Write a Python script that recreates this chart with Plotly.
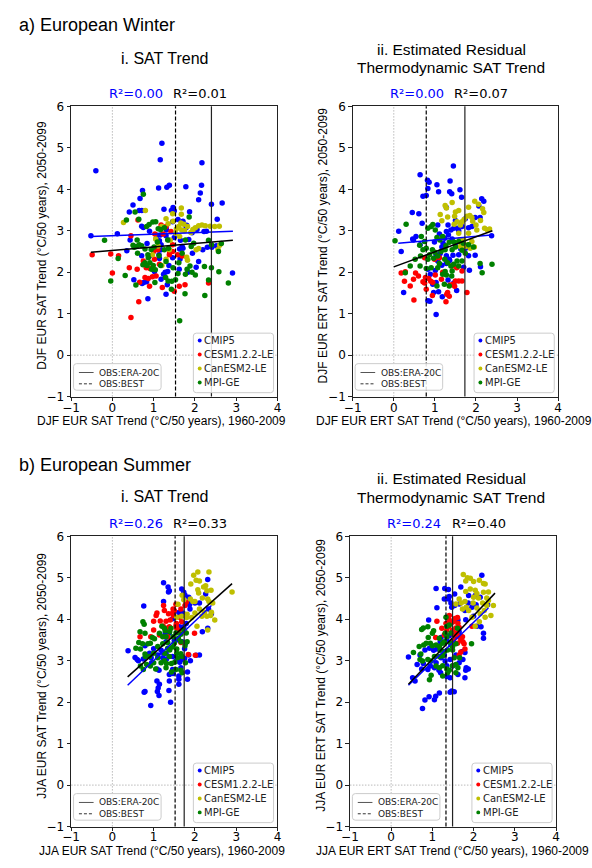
import plotly.graph_objects as go

W, H = 592, 868

# ---------------- data ----------------
# Panel a-i : DJF EUR SAT trend (x: 1960-2009, y: 2050-2099)
djf_sat_cmip5 = [(1.20,5.11),(1.16,4.71),(2.17,4.64),(-0.40,4.45),(1.38,4.10),(1.12,4.03),(1.32,4.05),(1.78,4.06),(2.16,4.10),(0.73,3.97),(2.13,3.91),(0.67,3.78),(1.25,3.52),(0.50,3.62),(0.41,3.45),(0.65,3.49),(0.71,3.49),(2.09,3.75),(2.40,3.64),(2.66,3.67),(1.47,3.56),(1.43,3.49),(1.87,3.46),(1.50,3.48),(2.54,3.28),(1.59,3.27),(1.71,3.23),(1.80,3.13),(1.79,3.08),(1.46,3.22),(0.75,3.08),(0.71,3.11),(0.90,2.99),(-0.52,2.88),(0.12,2.93),(1.30,3.07),(1.31,3.02),(1.09,2.89),(1.16,2.90),(1.30,2.88),(1.93,2.95),(2.05,3.03),(2.28,2.99),(2.22,2.98),(1.06,2.81),(1.14,2.76),(1.18,2.66),(1.37,2.78),(1.50,2.84),(1.85,2.79),(1.65,2.77),(1.69,2.62),(1.71,2.58),(1.63,2.56),(1.18,2.54),(0.84,2.69),(0.35,2.52),(0.71,2.40),(0.90,2.39),(1.13,2.42),(1.14,2.33),(1.46,2.35),(1.64,2.32),(1.94,2.46),(2.30,2.60),(2.41,2.60),(2.52,2.64),(2.19,2.54),(2.09,2.26),(2.03,2.12),(2.91,1.98),(1.83,2.00),(1.62,2.07),(1.37,2.16),(1.28,2.00),(1.24,1.95),(1.02,2.02),(0.76,1.75),(0.83,1.77),(0.52,1.82),(0.72,1.73),(1.18,1.83),(1.33,1.70),(1.30,1.47),(0.86,1.36),(1.34,2.02),(0.43,2.78)]
djf_sat_cesm = [(-0.49,2.42),(-0.04,2.44),(0.15,2.40),(0.00,1.98),(0.41,2.11),(0.60,2.07),(0.75,2.27),(0.82,2.11),(0.91,2.09),(0.62,3.26),(0.45,2.88),(1.03,2.92),(1.23,2.92),(1.30,3.10),(1.42,2.98),(1.10,2.54),(1.00,2.50),(1.06,1.91),(0.97,1.89),(0.87,1.85),(0.79,1.87),(0.66,1.76),(0.90,1.66),(1.21,1.63),(1.39,2.48),(1.38,2.42),(1.46,2.50),(1.58,2.42),(1.50,1.54),(1.62,1.66),(1.76,1.70),(2.33,1.74),(0.64,1.29),(0.45,0.91),(1.18,3.14),(1.02,2.31),(1.69,2.39),(1.14,2.19),(1.46,2.66)]
djf_sat_canesm = [(0.27,3.20),(0.80,3.49),(1.30,3.29),(1.47,3.23),(1.67,3.55),(1.67,3.40),(1.66,3.19),(1.73,3.16),(1.61,3.10),(1.82,3.10),(1.95,3.03),(2.01,3.07),(2.09,3.12),(2.17,3.14),(2.25,3.12),(2.37,3.11),(2.48,3.10),(2.59,3.11),(0.97,2.42),(1.20,2.16),(1.30,2.31),(1.38,2.54),(1.40,2.77),(1.53,2.94),(1.55,3.04),(1.68,3.02),(1.63,2.86),(1.75,3.00),(1.90,2.96),(1.46,3.41),(1.35,3.17),(1.20,3.10),(1.82,2.29),(1.80,2.36),(2.03,2.54),(2.09,2.57),(2.56,2.55),(2.60,2.65),(1.05,2.80),(1.11,2.63)]
djf_sat_mpi = [(0.75,3.88),(0.55,3.45),(0.64,3.28),(-0.19,2.77),(0.14,2.33),(-0.04,1.79),(0.31,1.92),(0.57,1.69),(0.65,2.66),(0.58,2.62),(0.53,2.60),(0.61,2.46),(0.71,2.64),(0.79,2.56),(0.83,3.10),(0.89,3.15),(0.98,3.21),(1.05,3.22),(1.11,3.05),(1.17,3.03),(1.26,3.07),(1.34,2.78),(1.36,2.58),(1.09,2.73),(1.01,2.61),(0.94,2.55),(0.86,2.42),(0.87,2.35),(0.79,2.23),(0.74,2.18),(0.84,2.16),(0.91,2.23),(0.95,2.07),(1.04,2.06),(0.99,2.16),(1.17,2.16),(1.30,2.26),(1.29,1.87),(1.35,1.79),(1.44,1.78),(1.53,1.82),(1.59,1.97),(1.77,1.95),(1.81,2.07),(1.93,2.00),(2.01,1.93),(2.23,2.14),(2.40,2.11),(2.58,2.01),(2.81,1.74),(2.24,1.44),(2.33,1.81),(1.76,1.48),(1.63,0.83),(1.86,3.33),(1.77,2.78),(1.91,2.62),(1.97,2.70),(2.33,2.77),(2.40,2.66),(2.57,2.50),(2.64,2.69),(1.69,2.46),(1.61,2.23),(1.88,2.15),(1.47,2.11),(0.34,3.26),(0.50,2.65),(0.60,2.78),(1.13,2.40),(1.26,2.54),(1.43,1.59),(1.03,1.75)]

# Panel a-ii : DJF EUR ERT SAT trend
djf_ert_cmip5 = [(1.45,4.56),(0.64,4.35),(0.82,4.22),(0.86,4.17),(1.05,4.11),(1.37,4.20),(0.83,4.02),(1.09,3.94),(0.71,3.83),(0.79,3.85),(1.36,3.94),(1.41,3.89),(1.61,3.99),(1.65,3.81),(2.14,3.77),(2.19,3.71),(2.07,3.60),(1.28,3.56),(0.45,3.44),(0.61,3.41),(0.69,3.18),(1.07,3.14),(1.32,3.14),(1.46,3.06),(1.55,3.06),(1.50,3.25),(1.62,3.18),(1.74,3.29),(1.66,3.10),(1.98,3.32),(2.10,3.32),(0.12,2.99),(0.48,2.78),(0.54,2.86),(1.28,2.98),(1.39,3.02),(1.58,3.00),(1.61,2.78),(1.11,2.92),(1.24,2.82),(1.33,2.90),(1.42,2.80),(0.18,2.50),(0.46,2.80),(0.64,2.66),(0.99,2.73),(1.20,2.70),(1.17,2.61),(1.03,2.42),(1.13,2.45),(1.28,2.40),(1.35,2.31),(1.44,2.41),(1.58,2.42),(1.63,2.56),(1.75,2.58),(1.82,2.40),(1.98,2.41),(2.38,2.88),(1.07,2.27),(1.17,2.17),(1.36,2.28),(1.28,2.21),(1.70,2.12),(1.84,2.05),(2.11,2.13),(0.83,2.07),(1.01,2.04),(0.89,1.95),(1.03,1.75),(0.95,1.71),(0.24,1.51),(0.83,1.31),(0.88,1.30),(0.97,1.51),(1.09,1.53),(1.18,1.41),(1.32,1.81),(1.46,1.74),(1.53,1.56),(1.03,0.98),(1.82,3.07),(1.90,3.10),(1.50,2.63)]
djf_ert_cesm = [(0.18,1.98),(0.28,2.01),(0.48,1.83),(0.53,1.98),(0.40,1.67),(0.26,1.78),(0.49,1.33),(0.60,1.91),(0.75,2.35),(0.75,1.74),(0.71,1.77),(0.85,1.85),(0.90,1.78),(1.01,1.93),(0.79,1.59),(0.94,1.44),(0.95,1.75),(1.27,1.29),(1.29,1.47),(1.31,1.51),(1.37,1.69),(1.44,1.71),(1.50,1.79),(1.58,1.79),(1.66,1.79),(1.78,1.51),(1.42,2.15),(1.53,2.11),(1.66,2.03),(0.99,2.31),(1.11,2.35),(0.77,1.87),(1.16,1.83),(1.19,2.00),(1.48,1.66),(1.35,1.42)]
djf_ert_canesm = [(1.13,3.39),(1.17,3.24),(1.25,3.61),(1.28,3.55),(1.42,3.68),(1.50,3.45),(1.58,3.49),(1.48,3.35),(1.54,3.22),(1.62,3.14),(1.71,3.27),(1.78,3.35),(1.82,3.57),(1.85,3.37),(1.90,3.32),(1.97,3.71),(2.06,3.64),(2.16,3.53),(2.19,3.44),(2.11,3.25),(2.21,3.06),(2.28,3.02),(2.33,3.04),(2.00,3.14),(1.82,2.94),(1.70,2.78),(1.62,2.62),(1.74,2.62),(1.80,2.66),(1.90,2.74),(1.86,2.58),(1.96,2.61),(1.58,2.94),(1.31,3.33),(1.47,3.16),(1.66,3.22),(2.02,3.02),(1.92,3.23),(1.60,2.77)]
djf_ert_mpi = [(0.03,2.76),(0.30,3.16),(0.28,1.99),(0.40,2.15),(0.63,2.65),(0.65,2.39),(0.67,2.86),(0.83,3.06),(0.91,3.10),(0.95,3.15),(1.01,3.02),(1.05,2.84),(1.19,2.86),(1.35,2.72),(1.46,2.73),(1.58,2.74),(1.69,2.70),(1.82,2.66),(1.94,2.61),(2.10,2.21),(2.15,1.99),(2.39,2.19),(0.79,2.58),(0.87,2.42),(0.94,2.54),(1.00,2.48),(1.07,2.39),(1.15,2.50),(1.25,2.54),(1.42,2.54),(1.50,2.61),(0.83,2.31),(0.97,2.34),(1.11,2.21),(1.24,2.31),(1.31,2.23),(1.39,2.15),(1.46,2.19),(1.54,2.27),(0.91,2.11),(1.07,2.11),(1.19,1.95),(1.28,1.93),(1.41,1.91),(1.58,2.15),(1.66,2.27),(0.52,2.31),(0.64,2.15),(0.71,2.54),(1.12,2.78),(1.27,2.64),(1.66,2.53),(1.74,2.46),(1.05,1.67),(1.23,1.71),(1.35,1.67),(1.25,2.02),(1.42,2.03),(0.75,2.74),(0.79,2.09)]

# Panel b-i : JJA EUR SAT trend
jja_sat_cmip5 = [(1.24,4.88),(1.35,4.78),(1.38,4.69),(1.36,4.66),(1.24,4.43),(0.76,4.32),(1.68,4.73),(1.73,4.65),(1.76,4.58),(1.85,4.53),(1.89,4.43),(1.87,4.35),(1.88,4.25),(2.00,4.39),(2.11,4.39),(2.31,4.96),(2.26,4.61),(2.33,4.25),(2.40,4.13),(2.31,3.78),(2.18,3.70),(1.71,4.15),(1.61,4.16),(1.46,4.01),(1.63,3.82),(1.73,3.82),(1.79,3.90),(1.28,3.66),(1.38,3.67),(1.30,3.46),(1.50,3.49),(1.56,3.50),(0.79,3.36),(0.90,3.18),(1.00,3.29),(1.18,3.25),(1.10,3.14),(1.22,3.20),(0.38,3.24),(0.60,3.03),(0.63,3.00),(0.75,3.04),(0.95,2.95),(1.08,2.80),(1.13,2.77),(1.31,3.04),(1.22,3.07),(1.46,3.10),(1.54,2.99),(1.75,3.29),(1.75,3.06),(1.89,3.00),(2.11,3.14),(2.03,3.13),(1.85,3.14),(1.63,2.96),(1.46,2.79),(1.47,2.69),(1.38,2.67),(1.61,2.63),(1.61,2.55),(1.82,2.73),(1.82,2.55),(1.61,2.43),(1.38,2.51),(1.08,2.51),(1.14,2.43),(1.11,2.34),(1.09,2.26),(1.13,2.16),(0.77,2.24),(0.79,2.26),(0.93,1.92),(1.41,2.00),(1.37,2.28),(1.66,2.83),(1.69,3.46),(0.55,3.08),(0.94,3.07),(1.30,3.18),(1.68,3.03),(1.77,3.42)]
jja_sat_cesm = [(0.67,3.58),(1.00,3.95),(1.08,4.15),(1.06,4.09),(1.24,4.33),(1.26,4.21),(1.23,3.84),(1.30,3.78),(1.38,3.82),(1.16,3.96),(1.47,4.25),(1.50,4.21),(1.48,4.09),(1.46,4.15),(1.55,3.90),(1.54,3.84),(1.56,3.78),(1.66,4.25),(1.63,4.05),(1.68,3.94),(1.76,4.33),(1.79,4.41),(1.84,3.15),(2.01,3.13),(1.99,3.66),(1.66,3.44),(1.61,3.72),(1.30,3.95),(1.34,3.58),(1.00,3.74),(0.93,3.58),(1.14,3.62),(1.36,4.13),(1.54,4.36),(1.40,3.98)]
jja_sat_canesm = [(1.97,5.06),(2.07,5.14),(2.34,5.14),(2.03,4.94),(2.11,4.92),(2.26,4.81),(2.21,4.78),(2.39,4.70),(2.29,4.69),(2.07,4.71),(2.09,4.63),(2.18,4.51),(2.31,4.49),(2.34,4.43),(2.43,4.39),(2.40,4.17),(2.38,4.09),(2.48,3.98),(2.29,4.07),(2.31,3.74),(2.05,3.83),(1.92,4.04),(1.81,4.12),(1.95,4.43),(1.89,4.49),(2.00,4.43),(1.59,4.36),(1.56,4.05),(1.68,4.07),(1.80,4.04),(1.73,4.47),(1.69,4.58),(1.90,4.85),(2.11,4.25),(2.23,4.17),(2.17,4.07),(2.90,4.66),(2.00,4.15)]
jja_sat_mpi = [(0.74,3.94),(0.77,3.88),(0.67,3.70),(0.64,3.44),(0.57,3.30),(0.68,3.28),(0.73,3.41),(0.79,3.66),(0.86,3.41),(0.92,3.42),(0.97,3.56),(1.02,3.53),(1.14,3.66),(1.20,3.83),(1.26,3.78),(1.28,3.72),(1.22,3.58),(1.30,3.58),(1.39,3.70),(1.42,3.78),(1.47,3.58),(1.54,3.67),(1.60,3.54),(1.66,3.64),(1.73,3.74),(1.79,3.67),(1.81,3.46),(1.76,3.36),(1.66,3.46),(0.79,3.16),(0.80,3.10),(0.90,3.10),(1.00,3.18),(1.10,3.07),(1.10,3.34),(1.22,3.41),(1.34,3.44),(1.34,3.30),(1.27,3.18),(1.39,3.26),(1.46,3.33),(1.50,3.42),(1.56,3.28),(1.56,3.18),(1.66,3.17),(1.69,3.10),(0.83,2.91),(0.92,2.87),(1.00,2.95),(1.05,2.80),(1.18,2.95),(1.26,3.00),(1.31,2.93),(1.30,2.83),(1.43,2.93),(1.51,2.96),(1.54,2.79),(1.66,2.77),(1.69,2.71),(1.43,2.73),(0.75,2.79),(0.68,2.87),(1.38,3.10),(1.77,2.95),(1.58,3.07)]

# Panel b-ii : JJA EUR ERT SAT trend
jja_ert_cmip5 = [(2.20,5.06),(1.09,4.74),(1.30,4.74),(1.39,4.72),(1.69,4.78),(1.54,4.61),(1.41,4.55),(1.39,4.49),(1.29,4.49),(1.45,4.39),(1.47,4.29),(1.11,4.28),(1.54,4.33),(1.65,4.37),(1.88,4.57),(2.04,4.57),(2.16,4.53),(2.06,4.35),(1.96,4.29),(1.87,4.39),(1.79,4.21),(1.81,3.99),(1.62,3.98),(2.00,4.07),(2.08,3.83),(2.18,3.82),(2.24,3.66),(2.24,3.54),(2.34,4.35),(0.91,3.98),(1.65,3.70),(1.65,3.60),(1.58,3.58),(1.41,3.60),(1.35,3.50),(1.21,3.56),(1.45,3.38),(1.19,3.46),(1.11,3.28),(1.03,3.25),(0.93,3.30),(0.82,3.26),(0.70,3.14),(0.42,3.09),(0.78,2.93),(0.63,2.91),(0.74,2.80),(0.89,2.79),(0.95,2.87),(1.05,2.83),(1.16,2.77),(1.20,2.71),(1.09,2.95),(1.31,2.99),(1.35,2.88),(1.43,3.03),(1.49,2.87),(1.65,2.95),(1.74,3.03),(1.79,3.20),(1.73,3.22),(1.82,2.83),(1.81,2.77),(1.87,2.80),(1.79,2.59),(1.62,2.67),(1.35,2.62),(1.43,2.59),(1.47,2.27),(1.53,2.25),(1.43,2.24),(1.17,2.22),(1.08,2.14),(1.05,2.06),(0.92,2.13),(0.82,2.05),(0.76,1.85),(0.58,2.51),(0.52,2.59),(1.29,3.14),(1.57,3.14),(1.21,3.07)]
jja_ert_cesm = [(1.11,3.95),(1.41,4.09),(1.33,3.90),(1.39,3.82),(1.45,3.90),(1.51,3.94),(1.55,4.02),(1.62,3.90),(1.57,3.79),(1.65,3.80),(1.49,3.74),(1.59,3.67),(1.65,3.58),(1.69,3.50),(1.74,3.46),(1.77,3.41),(1.79,3.28),(1.65,3.14),(1.69,3.21),(1.41,3.98),(1.35,3.74),(1.53,3.62),(1.61,4.04),(1.96,3.83),(1.08,3.56),(1.29,3.62),(1.61,3.42),(1.73,3.58),(1.23,3.78),(1.51,3.50)]
jja_ert_canesm = [(1.75,5.08),(1.85,5.00),(1.92,4.99),(1.81,4.92),(2.00,4.91),(2.14,4.94),(2.24,4.86),(2.28,4.85),(1.92,4.73),(2.04,4.70),(2.08,4.62),(2.00,4.53),(2.12,4.51),(2.24,4.65),(2.36,4.66),(2.32,4.51),(2.22,4.39),(2.32,4.33),(2.48,4.33),(2.42,4.09),(2.28,4.05),(2.14,3.94),(2.04,3.83),(1.96,4.05),(1.88,4.21),(1.82,4.29),(1.70,4.39),(1.65,4.49),(1.79,4.43),(1.73,4.25),(1.57,4.37),(2.08,4.27),(2.16,4.13),(2.26,4.21),(1.99,4.39),(2.36,4.45),(1.81,4.67)]
jja_ert_mpi = [(0.72,3.16),(0.54,3.20),(0.74,3.75),(0.78,3.79),(0.89,3.82),(1.03,3.72),(1.00,3.66),(0.90,3.56),(0.95,3.42),(0.85,3.42),(0.79,3.38),(0.68,3.34),(1.00,3.36),(1.09,3.38),(1.17,3.34),(1.19,3.25),(1.25,3.42),(1.17,3.54),(1.29,3.46),(1.35,3.58),(1.31,3.66),(1.35,3.83),(1.41,3.86),(1.45,3.67),(1.33,4.05),(1.45,3.42),(1.57,3.41),(1.49,3.34),(1.49,3.26),(1.37,3.26),(1.29,3.22),(1.25,3.12),(1.17,3.10),(1.05,3.10),(0.97,2.99),(0.89,3.03),(0.76,2.99),(0.70,3.03),(1.09,2.87),(1.17,2.83),(1.25,2.88),(1.35,2.80),(1.41,2.77),(1.49,2.88),(1.57,2.91),(1.62,2.83),(0.97,2.65),(0.93,2.54),(1.25,2.63),(1.37,2.71),(1.57,2.71),(1.66,3.07),(1.95,3.41),(1.61,3.78),(1.53,3.07)]

# observed trends (vertical lines): a-i, a-ii, b-i, b-ii
obs_era20c = [2.40, 1.73, 1.74, 1.49]
obs_best = [1.53, 0.79, 1.52, 1.33]

# regression lines (endpoints): ((x0, x1), (y0, y1))
fit_cmip5 = [((-0.52, 2.92), (2.86, 2.99)), ((0.11, 2.37), (2.70, 2.90)),
             ((0.37, 2.40), (2.41, 4.33)), ((0.42, 2.36), (2.41, 4.27))]
fit_all = [((-0.52, 2.92), (2.48, 2.77)), ((0.00, 2.40), (2.13, 3.00)),
           ((0.37, 2.90), (2.61, 4.86)), ((0.42, 2.52), (2.43, 4.63))]
r2_cmip5 = [0.00, 0.00, 0.26, 0.24]
r2_all = [0.01, 0.07, 0.33, 0.40]

series_names = ["CMIP5", "CESM1.2.2-LE", "CanESM2-LE", "MPI-GE"]
series_colors = ["#0000ff", "#ff0000", "#bfbf00", "#008000"]
panel_data = [
    [djf_sat_cmip5, djf_sat_cesm, djf_sat_canesm, djf_sat_mpi],
    [djf_ert_cmip5, djf_ert_cesm, djf_ert_canesm, djf_ert_mpi],
    [jja_sat_cmip5, jja_sat_cesm, jja_sat_canesm, jja_sat_mpi],
    [jja_ert_cmip5, jja_ert_cesm, jja_ert_canesm, jja_ert_mpi],
]
x_labels = ["DJF EUR SAT Trend (°C/50 years), 1960-2009",
            "DJF EUR ERT SAT Trend (°C/50 years), 1960-2009",
            "JJA EUR SAT Trend (°C/50 years), 1960-2009",
            "JJA EUR ERT SAT Trend (°C/50 years), 1960-2009"]
y_labels = ["DJF EUR SAT Trend (°C/50 years), 2050-2099",
            "DJF EUR ERT SAT Trend (°C/50 years), 2050-2099",
            "JJA EUR SAT Trend (°C/50 years), 2050-2099",
            "JJA EUR ERT SAT Trend (°C/50 years), 2050-2099"]
x_ticks = [-1, 0, 1, 2, 3, 4]
y_ticks = [-1, 0, 1, 2, 3, 4, 5, 6]

# ---------------- layout geometry (pixels) ----------------
PAN = [(63.5, 274.5, 101, 396), (351.4, 561.5, 101, 396),
       (63.5, 274.5, 538, 833), (348.6, 559.3, 538, 833)]
XLAB_SHIFT = [-13, -1, -13, -1]


def PX(px):
    return px / W


def PY(py):
    return 1 - py / H


TITLE_FONT = "Liberation Sans"
TICK_FONT = "DejaVu Sans"

fig = go.Figure()
shapes = []
annotations = []


def ann(text, x, y, size, xanchor="center", yanchor="middle", color="black",
        family=TITLE_FONT, angle=0):
    annotations.append(dict(text=text, x=PX(x), y=PY(y), xref="paper", yref="paper",
                            showarrow=False, xanchor=xanchor, yanchor=yanchor,
                            textangle=angle, borderpad=0,
                            font=dict(family=family, size=size, color=color)))


def rbox(x0, y0, x1, y1, r=3):
    p = (f"M {PX(x0+r)},{PY(y0)} L {PX(x1-r)},{PY(y0)} Q {PX(x1)},{PY(y0)} {PX(x1)},{PY(y0+r)} "
         f"L {PX(x1)},{PY(y1-r)} Q {PX(x1)},{PY(y1)} {PX(x1-r)},{PY(y1)} "
         f"L {PX(x0+r)},{PY(y1)} Q {PX(x0)},{PY(y1)} {PX(x0)},{PY(y1-r)} "
         f"L {PX(x0)},{PY(y0+r)} Q {PX(x0)},{PY(y0)} {PX(x0+r)},{PY(y0)} Z")
    return dict(type="path", xref="paper", yref="paper", path=p, layer="above",
                fillcolor="rgba(255,255,255,0.85)", line=dict(color="#cccccc", width=1))


for i, (l, r, t, b) in enumerate(PAN):
    n = "" if i == 0 else str(i + 1)
    xa, ya = "x" + n, "y" + n
    axis_common = dict(showline=True, linecolor="#222222", linewidth=1, mirror=True,
                       ticks="outside", ticklen=3.5, tickwidth=1, tickcolor="#222222",
                       showgrid=False, zeroline=False, fixedrange=True,
                       tickfont=dict(family=TICK_FONT, size=12, color="black"))
    fig.layout["xaxis" + n] = dict(domain=[PX(l), PX(r)], range=[-1, 4], anchor=ya,
                                   tickvals=x_ticks, ticklabelstandoff=-4, **axis_common)
    fig.layout["yaxis" + n] = dict(domain=[PY(b), PY(t)], range=[-1, 6], anchor=xa,
                                   tickvals=y_ticks, **axis_common)

    # zero reference lines (dotted grey)
    shapes.append(dict(type="line", xref=xa, yref=ya + " domain", x0=0, x1=0, y0=0, y1=1,
                       line=dict(color="#aaaaaa", width=0.8, dash="1.5px,1.5px"), layer="below"))
    shapes.append(dict(type="line", xref=xa + " domain", yref=ya, x0=0, x1=1, y0=0, y1=0,
                       line=dict(color="#aaaaaa", width=0.8, dash="1.5px,1.5px"), layer="below"))

    # scatter points
    for pts, c, nm in zip(panel_data[i], series_colors, series_names):
        fig.add_trace(go.Scatter(x=[p[0] for p in pts], y=[p[1] for p in pts], mode="markers",
                                 marker=dict(color=c, size=5.5, line=dict(width=0)),
                                 xaxis=xa, yaxis=ya, showlegend=False, name=nm,
                                 hoverinfo="skip"))
    # regression lines
    (fx0, fx1), (fy0, fy1) = fit_cmip5[i]
    fig.add_trace(go.Scatter(x=[fx0, fx1], y=[fy0, fy1], mode="lines",
                             line=dict(color="#0000ff", width=1.5), hoverinfo="skip",
                             xaxis=xa, yaxis=ya, showlegend=False))
    (fx0, fx1), (fy0, fy1) = fit_all[i]
    fig.add_trace(go.Scatter(x=[fx0, fx1], y=[fy0, fy1], mode="lines",
                             line=dict(color="black", width=1.5), hoverinfo="skip",
                             xaxis=xa, yaxis=ya, showlegend=False))

    # observed trend lines
    shapes.append(dict(type="line", xref=xa, yref=ya + " domain", x0=obs_era20c[i], x1=obs_era20c[i],
                       y0=0, y1=1, line=dict(color="#222222", width=1.2), layer="above"))
    shapes.append(dict(type="line", xref=xa, yref=ya + " domain", x0=obs_best[i], x1=obs_best[i],
                       y0=0, y1=1, line=dict(color="black", width=1.2, dash="4px,2px"), layer="above"))

    # R^2 labels
    ann(f"R²={r2_cmip5[i]:.2f}", l + 66, t - 13, 13, color="#0000ff", family=TICK_FONT)
    ann(f"R²={r2_all[i]:.2f}", l + 131.5, t - 13, 13, color="black", family=TICK_FONT)

    # axis labels
    ann(x_labels[i], (l + r) / 2 + XLAB_SHIFT[i], b + 25, 12)
    ann(y_labels[i], l - 30.5, (t + b) / 2 - 6, 12, angle=-90)

    # legend: observations (lower left)
    shapes.append(rbox(l + 2.5, b - 33.5, l + 92, b - 6.5))
    for k, (lab, dash, col) in enumerate([("OBS:ERA-20C", "solid", "#555555"),
                                           ("OBS:BEST", "3px,2px", "#333333")]):
        yy = b - 24.5 + 11.5 * k
        shapes.append(dict(type="line", xref="paper", yref="paper", x0=PX(l + 8), x1=PX(l + 23),
                           y0=PY(yy), y1=PY(yy), line=dict(color=col, width=1, dash=dash), layer="above"))
        ann(lab, l + 28, yy, 9, xanchor="left", family=TICK_FONT, color="#222222")

    # legend: ensembles (lower right)
    bx0 = r - 86
    shapes.append(rbox(bx0, b - 64.5, r - 4, b - 4))
    for k, (nm, c) in enumerate(zip(series_names, series_colors)):
        yy = b - 57 + 14.2 * k
        cx = bx0 + 6.5
        shapes.append(dict(type="circle", xref="paper", yref="paper",
                           x0=PX(cx - 2), x1=PX(cx + 2), y0=PY(yy + 2), y1=PY(yy - 2),
                           fillcolor=c, line=dict(width=0), layer="above"))
        ann(nm, bx0 + 10, yy, 10, xanchor="left", family=TICK_FONT, color="#222222")

# section and panel titles
ann("a) European Winter", 9, 18, 18, xanchor="left")
ann("b) European Summer", 9, 466, 18, xanchor="left")
ann("i. SAT Trend", 159, 52, 16)
ann("ii. Estimated Residual", 452, 43, 15.5)
ann("Thermodynamic SAT Trend", 452, 62, 15.5)
ann("i. SAT Trend", 159, 498, 16)
ann("ii. Estimated Residual", 452, 479, 15.5)
ann("Thermodynamic SAT Trend", 452, 499, 15.5)

fig.update_layout(width=W, height=H, margin=dict(l=0, r=0, t=0, b=0),
                  paper_bgcolor="white", plot_bgcolor="white", hovermode=False,
                  shapes=shapes, annotations=annotations, showlegend=False)

fig.write_html("out.html", config={"displayModeBar": False, "staticPlot": True},
               post_script="document.body.style.margin='0';document.body.style.overflow='hidden';")
